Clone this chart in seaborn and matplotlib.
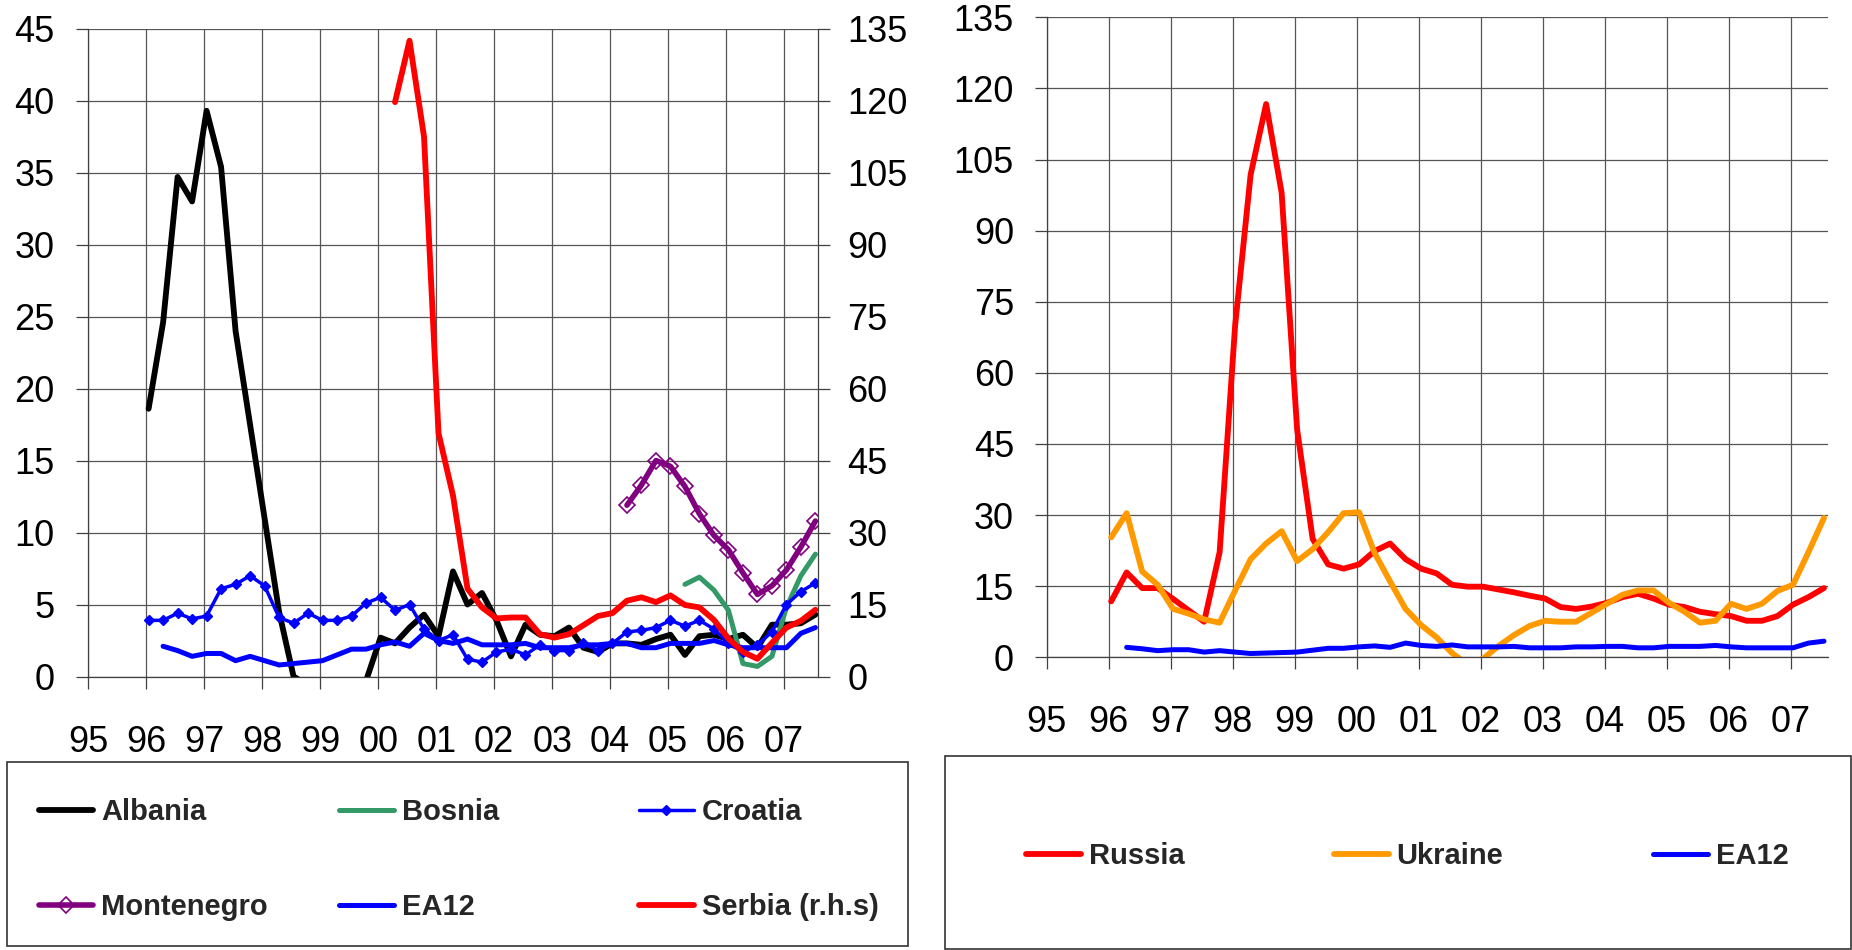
import numpy as np
import pandas as pd
import matplotlib
matplotlib.use("Agg")
import matplotlib.pyplot as plt
from matplotlib.lines import Line2D
from matplotlib.patches import Rectangle
import seaborn as sns

nan = np.nan

# ---------------- data (quarterly, 1996Q1 .. 2007Q3) ----------------
first_year = 1996
year_ticks = list(range(1995, 2008))
year_labels = ["95", "96", "97", "98", "99", "00", "01", "02", "03", "04", "05", "06", "07"]

albania = [18.6, 24.6, 34.7, 33.0, 39.3, 35.4, 24.0, 17.5, 11.0, 4.5,
           0.0, -0.6, -1.2, -1.0, -0.4, -0.3, 2.7, 2.3, 3.4, 4.3,
           2.8, 7.3, 5.0, 5.8, 3.9, 1.4, 3.6, 2.9, 2.8, 3.4,
           2.0, 1.7, 2.3, 2.3, 2.2, 2.6, 2.9, 1.5, 2.8, 2.9,
           2.6, 2.9, 2.0, 3.6, 3.6, 3.7, 4.3]
bosnia = [nan] * 37 + [6.4, 6.9, 6.0, 4.6, 0.9, 0.7, 1.4, 4.8, 7.0, 8.5]
croatia = [3.9, 3.9, 4.4, 4.0, 4.2, 6.1, 6.4, 7.0, 6.3, 4.1,
           3.7, 4.4, 3.9, 3.9, 4.2, 5.1, 5.5, 4.6, 5.0, 3.3,
           2.5, 2.9, 1.2, 1.0, 1.7, 1.9, 1.5, 2.2, 1.8, 1.8,
           2.3, 1.8, 2.3, 3.1, 3.2, 3.4, 3.9, 3.5, 3.9, 3.3,
           2.3, 1.7, 2.2, 3.1, 5.0, 5.9, 6.5]
montenegro = [nan] * 33 + [11.9, 13.3, 15.0, 14.6, 13.2, 11.3, 9.8, 8.8, 7.2, 5.7,
                           6.3, 7.4, 9.0, 10.8]
ea12 = [nan, 2.1, 1.8, 1.4, 1.6, 1.6, 1.1, 1.4, 1.1, 0.8,
        0.9, 1.0, 1.1, 1.5, 1.9, 1.9, 2.2, 2.4, 2.1, 3.0,
        2.5, 2.3, 2.6, 2.2, 2.2, 2.2, 2.3, 2.0, 2.0, 2.0,
        2.2, 2.2, 2.3, 2.3, 2.0, 2.0, 2.3, 2.3, 2.3, 2.5,
        2.2, 2.0, 2.0, 2.0, 2.0, 3.0, 3.4]
serbia = [nan] * 17 + [119.7, 132.5, 112.5, 50.7, 37.7, 18.3, 14.4, 12.1, 12.3, 12.3,
                       8.8, 8.1, 8.8, 10.7, 12.6, 13.2, 15.8, 16.5, 15.5, 16.9,
                       14.9, 14.4, 11.8, 7.9, 5.1, 3.7, 7.0, 10.2, 11.6, 13.9]
russia = [11.8, 17.9, 14.6, 14.6, 12.3, 9.9, 7.5, 22.2, 70.0, 101.8,
          116.7, 98.0, 48.1, 25.0, 19.6, 18.7, 19.6, 22.4, 24.0, 20.7,
          18.7, 17.7, 15.3, 14.9, 14.9, 14.3, 13.7, 13.0, 12.4, 10.6,
          10.2, 10.7, 11.5, 12.7, 13.4, 12.4, 11.1, 10.6, 9.6, 9.1,
          8.7, 7.7, 7.7, 8.7, 11.1, 12.7, 14.6]
ukraine = [25.3, 30.4, 18.1, 15.3, 10.2, 9.2, 8.0, 7.3, 14.1, 20.7,
           24.0, 26.6, 20.3, 22.8, 26.4, 30.4, 30.6, 22.0, 16.0, 10.2,
           6.8, 4.2, 0.9, -1.5, -0.3, 2.4, 4.7, 6.6, 7.7, 7.5,
           7.5, 9.4, 11.3, 13.2, 14.1, 14.1, 11.5, 9.6, 7.3, 7.7,
           11.3, 10.2, 11.3, 14.0, 15.3, 22.2, 29.4]

# ---------------- style ----------------
sns.set_theme(style="white")
plt.rcParams["font.family"] = ["Liberation Sans", "DejaVu Sans"]

W, H = 1852, 950
fig = plt.figure(figsize=(W / 100, H / 100), dpi=100)


def px_axes(x0, y0, x1, y1):
    return fig.add_axes([x0 / W, 1 - y1 / H, (x1 - x0) / W, (y1 - y0) / H])


qx = first_year + 0.25 * np.arange(len(albania)) + 0.04


def draw(ax, values, **kw):
    df = pd.DataFrame({"x": qx, "y": values}).dropna()
    sns.lineplot(data=df, x="x", y="y", ax=ax, sort=False, estimator=None, **kw)
    ax.set_xlabel("")
    ax.set_ylabel("")


GRID = "#555555"
TICKC = "#404040"
TICK_FS = 26
XMAX = 2007.59

BLACK, GREEN, BLUE, PURPLE, RED, ORANGE = "#000000", "#339966", "#0000FF", "#800080", "#FF0000", "#FF9900"

styles = {
    "Albania": dict(color=BLACK, lw=4.2),
    "Bosnia": dict(color=GREEN, lw=3.6),
    "Croatia": dict(color=BLUE, lw=2.5, marker="D", markersize=4.8,
                    markerfacecolor=BLUE, markeredgecolor=BLUE, markeredgewidth=1.0),
    "Montenegro": dict(color=PURPLE, lw=4.0, marker="D", markersize=8,
                       markerfacecolor="none", markeredgecolor=PURPLE, markeredgewidth=1.2),
    "EA12": dict(color=BLUE, lw=3.6),
    "Serbia (r.h.s)": dict(color=RED, lw=4.2),
    "Russia": dict(color=RED, lw=4.2),
    "Ukraine": dict(color=ORANGE, lw=4.2),
}


def style_axis(ax, ymax, ystep, ypad):
    ax.set_xlim(1995, XMAX)
    ax.set_ylim(0, ymax)
    ax.set_yticks(np.arange(0, ymax + 0.1, ystep))
    ax.set_xticks(year_ticks)
    ax.set_xticklabels(year_labels)
    ax.grid(True, color=GRID, lw=0.9)
    ax.set_axisbelow(True)
    ax.tick_params(axis="both", which="both", bottom=True, left=True, direction="out",
                   length=8.6, width=0.9, color=TICKC, labelsize=TICK_FS, labelcolor="black")
    ax.tick_params(axis="x", pad=26)
    ax.tick_params(axis="y", pad=ypad)
    for s in ["top", "right"]:
        ax.spines[s].set_visible(False)
    for s in ["left", "bottom"]:
        ax.spines[s].set_color(TICKC)
        ax.spines[s].set_linewidth(0.9)


# ---------------- left chart ----------------
axL = px_axes(88.3, 28.7, 818.3, 676.5)
draw(axL, albania, **styles["Albania"])
draw(axL, bosnia, **styles["Bosnia"])
draw(axL, croatia, **styles["Croatia"])
draw(axL, montenegro, **styles["Montenegro"])
draw(axL, ea12, **styles["EA12"])
style_axis(axL, 45, 5, 15.8)

axS = axL.twinx()
draw(axS, serbia, **styles["Serbia (r.h.s)"])
axS.set_xlim(1995, XMAX)
axS.set_ylim(0, 135)
axS.set_yticks(np.arange(0, 136, 15))
axS.grid(False)
axS.tick_params(axis="y", right=True, direction="out", length=8.6, width=0.9, color=TICKC,
                labelsize=TICK_FS, pad=12.5, labelcolor="black")
for s in ["top", "left", "bottom"]:
    axS.spines[s].set_visible(False)
axS.spines["right"].set_visible(True)
axS.spines["right"].set_color(TICKC)
axS.spines["right"].set_linewidth(0.9)

# ---------------- right chart ----------------
axR = px_axes(1046.7, 17.3, 1827.7, 657.3)
draw(axR, russia, **styles["Russia"])
draw(axR, ukraine, **styles["Ukraine"])
draw(axR, ea12, **styles["EA12"])
style_axis(axR, 135, 15, 15)
axR.set_xlim(1995, 2007.6)

# ---------------- legends ----------------
LEG_PROP = dict(family="Liberation Sans", weight="bold", size=21)


def legend_item(name, x, y):
    h = Line2D([], [], **styles[name])
    fig.legend(handles=[h], labels=[name], loc="center left",
               bbox_to_anchor=(x / W, 1 - y / H), frameon=False, borderpad=0,
               borderaxespad=0, handlelength=1.88, handletextpad=0.27, numpoints=1,
               prop=LEG_PROP)


for name, x, y in [("Albania", 38.5, 812), ("Bosnia", 339, 812), ("Croatia", 639, 812),
                   ("Montenegro", 38.5, 907), ("EA12", 339, 907), ("Serbia (r.h.s)", 639, 907),
                   ("Russia", 1026, 856), ("Ukraine", 1334, 856), ("EA12", 1653, 856)]:
    legend_item(name, x, y)

for (x0, y0, x1, y1) in [(7.3, 762, 908.3, 946), (945, 756, 1851, 948.5)]:
    fig.add_artist(Rectangle((x0 / W, 1 - y1 / H), (x1 - x0) / W, (y1 - y0) / H,
                             transform=fig.transFigure, fill=False, ec="#333333", lw=1.2))

fig.savefig("out.png", dpi=100)
